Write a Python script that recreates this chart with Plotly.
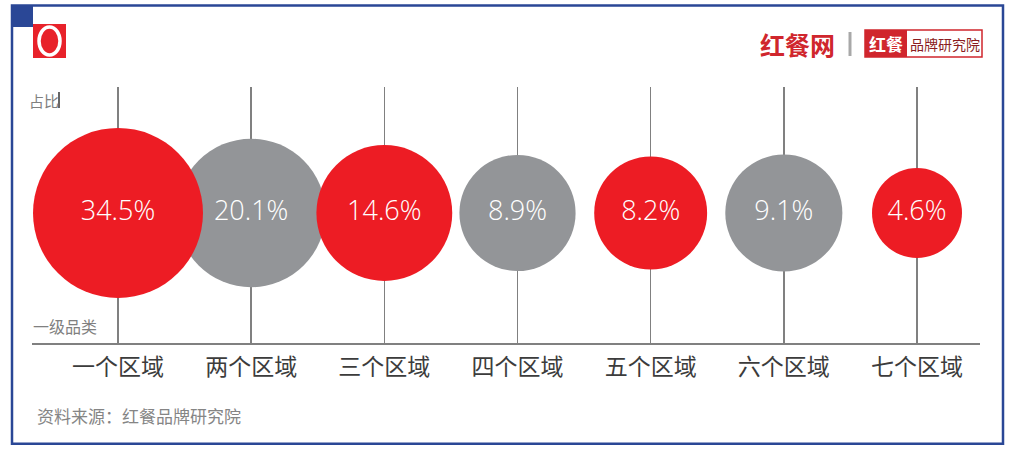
import math
import plotly.graph_objects as go

# ---- data ----
categories = ["一个区域", "两个区域", "三个区域", "四个区域", "五个区域", "六个区域", "七个区域"]
shares = [34.5, 20.1, 14.6, 8.9, 8.2, 9.1, 4.6]
groups = ["red", "gray", "red", "gray", "red", "gray", "red"]
label_texts = [f"{v}%" for v in shares]

# ---- styling ----
W, H = 1019, 456
PL, PR, PT, PB = 32, 980, 87, 343  # plot area in screen pixels
RED = "#ED1C24"
GRAY = "#939598"
AX = "#808080"
BLUE = "#2A4796"
FONT = "Noto Sans CJK SC"


def size_of(v):
    return 29.4 + 39.7 * math.log(v)


def px(x):
    return (x - PL) / (PR - PL)


def py(y):
    return (PB - y) / (PB - PT)


fig = go.Figure()
for grp, col in [("gray", GRAY), ("red", RED)]:
    idx = [i for i, g in enumerate(groups) if g == grp]
    fig.add_trace(go.Scatter(
        x=[categories[i] for i in idx],
        y=[0] * len(idx),
        mode="markers+text",
        marker=dict(size=[size_of(shares[i]) for i in idx], color=col,
                    line=dict(width=0), opacity=1),
        text=[label_texts[i] for i in idx],
        textposition="middle center",
        textfont=dict(family="Open Sans", size=27, color="white", weight=300),
        hoverinfo="skip",
        showlegend=False,
        cliponaxis=False,
    ))

spacing = 133.17
first_c, last_c = 118, 917
fig.update_xaxes(
    type="category",
    categoryorder="array",
    categoryarray=categories,
    range=[-(first_c - PL) / spacing, len(categories) - 1 + (PR - last_c) / spacing],
    showgrid=True, gridcolor=AX, gridwidth=1.5,
    showline=True, linecolor=AX, linewidth=2,
    zeroline=False,
    ticks="", ticklabelstandoff=2,
    tickfont=dict(family=FONT, size=23, color="#3c3c3c"),
    fixedrange=True,
)
fig.update_yaxes(range=[-1, 0.969], visible=False, showgrid=False, zeroline=False, fixedrange=True)

shapes = []
# outer blue border
shapes.append(dict(type="rect", xref="paper", yref="paper",
                   x0=px(12), x1=px(1003), y0=py(443.8), y1=py(5.5),
                   line=dict(color=BLUE, width=2.5), fillcolor="rgba(0,0,0,0)", layer="above"))
# blue square top-left
shapes.append(dict(type="rect", xref="paper", yref="paper",
                   x0=px(11), x1=px(33), y0=py(27), y1=py(5),
                   line=dict(width=0), fillcolor=BLUE, layer="above"))
# red logo square with white O
shapes.append(dict(type="rect", xref="paper", yref="paper",
                   x0=px(33), x1=px(66), y0=py(58), y1=py(24),
                   line=dict(width=0), fillcolor="#E8222A", layer="above"))
shapes.append(dict(type="circle", xref="paper", yref="paper",
                   x0=px(39), x1=px(60), y0=py(55), y1=py(27),
                   line=dict(width=3.5, color="white"), fillcolor="#E8222A", layer="above"))
# gray separator bar in right logo
shapes.append(dict(type="rect", xref="paper", yref="paper",
                   x0=px(848.5), x1=px(851.5), y0=py(56), y1=py(32),
                   line=dict(width=0), fillcolor="#A8A8A8", layer="above"))
# red outlined box
shapes.append(dict(type="rect", xref="paper", yref="paper",
                   x0=px(865), x1=px(982), y0=py(57), y1=py(30),
                   line=dict(width=1.5, color="#D0262D"), fillcolor="white", layer="above"))
shapes.append(dict(type="rect", xref="paper", yref="paper",
                   x0=px(865), x1=px(907), y0=py(57), y1=py(30),
                   line=dict(width=0), fillcolor="#D0262D", layer="above"))
# text cursor next to 占比
shapes.append(dict(type="line", xref="paper", yref="paper",
                   x0=px(59), x1=px(59), y0=py(108), y1=py(92),
                   line=dict(width=1.2, color="black"), layer="above"))

annotations = [
    dict(text="占比", x=px(27), y=py(100), xanchor="left", yanchor="middle",
         font=dict(family=FONT, size=15, color="#808080")),
    dict(text="一级品类", x=px(31), y=py(326), xanchor="left", yanchor="middle",
         font=dict(family=FONT, size=16, color="#808080")),
    dict(text="资料来源：红餐品牌研究院", x=px(35), y=py(415), xanchor="left", yanchor="middle",
         font=dict(family=FONT, size=17, color="#858585")),
    dict(text="<b>红餐网</b>", x=px(797), y=py(44), xanchor="center", yanchor="middle",
         font=dict(family=FONT, size=25, color="#D0262D")),
    dict(text="<b>红餐</b>", x=px(886), y=py(43.5), xanchor="center", yanchor="middle",
         font=dict(family=FONT, size=17, color="white")),
    dict(text="品牌研究院", x=px(944.5), y=py(43.5), xanchor="center", yanchor="middle",
         font=dict(family=FONT, size=14, color="#8A1C20")),
]
for a in annotations:
    a.update(xref="paper", yref="paper", showarrow=False)

fig.update_layout(
    width=W, height=H,
    margin=dict(l=PL, r=W - PR, t=PT, b=H - PB, pad=0),
    paper_bgcolor="white", plot_bgcolor="white",
    shapes=shapes, annotations=annotations,
    font=dict(family=FONT),
)

fig.write_html(
    "out.html",
    config={"displayModeBar": False, "staticPlot": True},
    post_script="document.body.style.margin='0';document.body.style.overflow='hidden';",
)
